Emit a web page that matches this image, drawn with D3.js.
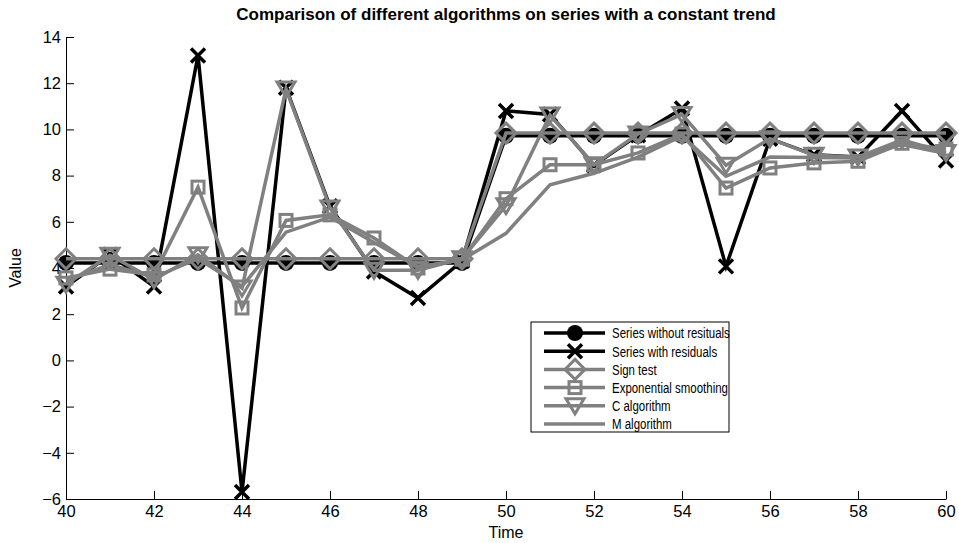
<!DOCTYPE html>
<html>
<head>
<meta charset="utf-8">
<script src="https://cdn.jsdelivr.net/npm/d3@7"></script>
<style>
  body { margin: 0; background: #fff; }
  text { font-family: "Liberation Sans", Arial, sans-serif; }
</style>
</head>
<body>
<svg width="959" height="543"></svg>
<script>
// time axis
var time = d3.range(40, 61)

var seriesNames = [
  'Series without resituals', 'Series with residuals', 'Sign test',
  'Exponential smoothing', 'C algorithm', 'M algorithm'
]

var withoutResiduals = [4.22, 4.22, 4.22, 4.22, 4.22, 4.22, 4.22, 4.22, 4.22, 4.22,
  9.72, 9.72, 9.72, 9.72, 9.72, 9.72, 9.72, 9.72, 9.72, 9.72, 9.72]
var withResiduals = [3.2, 4.57, 3.2, 13.2, -5.7, 11.8, 6.67, 3.85, 2.7, 4.3,
  10.8, 10.65, 8.45, 9.75, 10.9, 4.07, 9.6, 8.9, 8.8, 10.8, 8.65]
var signTest = [4.4, 4.4, 4.4, 4.4, 4.4, 4.4, 4.4, 4.4, 4.4, 4.4,
  9.84, 9.84, 9.84, 9.84, 9.84, 9.84, 9.84, 9.84, 9.84, 9.84, 9.84]
var expSmoothing = [3.57, 3.95, 3.7, 7.5, 2.27, 6.06, 6.3, 5.3, 4.0, 4.38,
  7.0, 8.47, 8.47, 8.98, 9.8, 7.46, 8.33, 8.55, 8.62, 9.4, 9.15]
var cAlgorithm = [3.3, 4.55, 3.5, 4.57, 3.13, 11.75, 6.6, 3.9, 3.9, 4.4,
  6.7, 10.62, 8.47, 9.8, 10.65, 8.45, 9.6, 8.88, 8.8, 9.55, 9.0]
var mAlgorithm = [3.45, 4.15, 3.6, 4.4, 3.2, 5.55, 6.2, 5.1, 4.05, 4.35,
  5.5, 7.6, 8.1, 8.8, 9.72, 7.97, 8.8, 8.78, 8.76, 9.35, 8.95]

var xTicks = d3.range(40, 61, 2)
var yTicks = d3.range(-6, 15, 2)

var svg = d3.select('svg')
var mLeft = 66, mRight = 946, mTop = 37, mBottom = 499

var x = d3.scaleLinear().domain([40, 60]).range([mLeft, mRight])
var y = d3.scaleLinear().domain([-6, 14]).range([mBottom, mTop])

var grey = '#808080'
var series = [
  { name: seriesNames[0], values: withoutResiduals, color: '#000', marker: 'circle' },
  { name: seriesNames[1], values: withResiduals, color: '#000', marker: 'cross' },
  { name: seriesNames[2], values: signTest, color: grey, marker: 'diamond' },
  { name: seriesNames[3], values: expSmoothing, color: grey, marker: 'square' },
  { name: seriesNames[4], values: cAlgorithm, color: grey, marker: 'triangle' },
  { name: seriesNames[5], values: mAlgorithm, color: grey, marker: null }
]

// axes, ticks pointing inward like matlab
var xAxis = svg.append('g')
    .attr('transform', 'translate(0,' + mBottom + ')')
    .call(d3.axisBottom(x).tickValues(xTicks).tickSizeInner(-8).tickSizeOuter(0).tickPadding(11))
var yAxis = svg.append('g')
    .attr('transform', 'translate(' + mLeft + ',0)')
    .call(d3.axisLeft(y).tickValues(yTicks).tickSizeInner(-8).tickSizeOuter(0).tickPadding(5)
      .tickFormat(function (d) { return d < 0 ? '\u2212' + Math.abs(d) : d }))

svg.selectAll('.domain').attr('stroke', '#000').attr('stroke-width', 1)
svg.selectAll('.tick line').attr('stroke', '#000')
svg.selectAll('.tick text').attr('font-size', 16.5).attr('fill', '#000')
  .attr('font-family', '"Liberation Sans", Arial, sans-serif')
xAxis.selectAll('.tick text').attr('dy', '0.45em')

function drawMarker (sel, type, color) {
  if (type === 'circle') {
    sel.append('circle').attr('r', 8).attr('fill', color)
  } else if (type === 'cross') {
    sel.append('path').attr('d', 'M-7,-7L7,7M-7,7L7,-7')
      .attr('stroke', color).attr('stroke-width', 3.5).attr('fill', 'none')
  } else if (type === 'diamond') {
    sel.append('path').attr('d', 'M0,-10L10,0L0,10L-10,0Z')
      .attr('stroke', color).attr('stroke-width', 3).attr('fill', 'none')
  } else if (type === 'square') {
    sel.append('rect').attr('x', -6).attr('y', -6).attr('width', 12).attr('height', 12)
      .attr('stroke', color).attr('stroke-width', 3).attr('fill', 'none')
  } else if (type === 'triangle') {
    sel.append('path').attr('d', 'M-9,-7L9,-7L0,8Z')
      .attr('stroke', color).attr('stroke-width', 3).attr('fill', 'none')
  }
}

var line = d3.line()
    .x(function (d, i) { return x(time[i]) })
    .y(function (d) { return y(d) })

var plot = svg.append('g')
series.forEach(function (s) {
  var g = plot.append('g')
  g.append('path')
      .datum(s.values)
      .attr('d', line)
      .attr('fill', 'none')
      .attr('stroke', s.color)
      .attr('stroke-width', 3.5)
      .attr('stroke-linejoin', 'miter')
  if (s.marker) {
    g.selectAll('g.mk')
        .data(s.values)
      .enter().append('g')
        .attr('class', 'mk')
        .attr('transform', function (d, i) { return 'translate(' + x(time[i]) + ',' + y(d) + ')' })
        .each(function () { drawMarker(d3.select(this), s.marker, s.color) })
  }
})

// title and labels
svg.append('text')
    .attr('x', (mLeft + mRight) / 2).attr('y', 20)
    .attr('text-anchor', 'middle')
    .attr('font-size', 17).attr('font-weight', 'bold')
    .text('Comparison of different algorithms on series with a constant trend')
svg.append('text')
    .attr('x', (mLeft + mRight) / 2).attr('y', 538)
    .attr('text-anchor', 'middle')
    .attr('font-size', 16)
    .text('Time')
svg.append('text')
    .attr('transform', 'translate(21,' + (mTop + mBottom) / 2 + ') rotate(-90)')
    .attr('text-anchor', 'middle')
    .attr('font-size', 16)
    .text('Value')

// legend
var legend = svg.append('g').attr('transform', 'translate(531,322)')
legend.append('rect')
    .attr('width', 198).attr('height', 110)
    .attr('fill', '#fff').attr('stroke', '#000').attr('stroke-width', 1)
var item = legend.selectAll('g.item')
    .data(series)
  .enter().append('g')
    .attr('class', 'item')
    .attr('transform', function (d, i) { return 'translate(0,' + (11 + i * 18.2) + ')' })
item.append('line')
    .attr('x1', 13).attr('x2', 74)
    .attr('stroke', function (d) { return d.color })
    .attr('stroke-width', 3.5)
item.each(function (d) {
  if (d.marker) {
    var m = d3.select(this).append('g').attr('transform', 'translate(44,0)')
    drawMarker(m, d.marker, d.color)
  }
})
// legend labels are narrower than the regular face, squeeze them a bit
item.append('text')
    .attr('transform', 'translate(81,0) scale(0.74,1)')
    .attr('dy', '0.35em')
    .attr('font-size', 15.5)
    .text(function (d) { return d.name })
</script>
</body>
</html>
